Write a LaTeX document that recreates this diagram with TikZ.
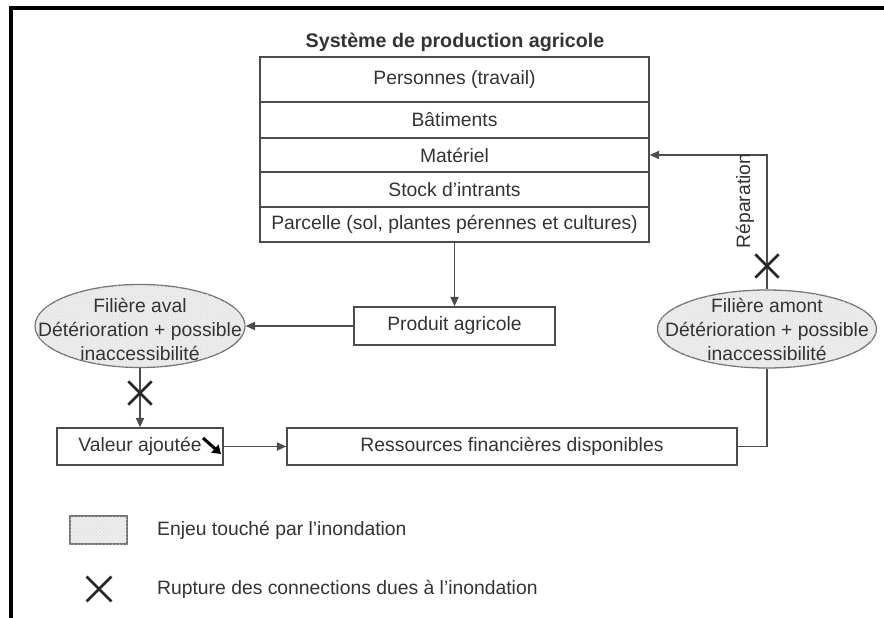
\documentclass[tikz,border=0pt]{standalone}
\usepackage{fontspec}
\setmainfont{Liberation Sans}
\usetikzlibrary{positioning, shapes.geometric, shapes.misc, arrows.meta, patterns}

\begin{document}
\begin{tikzpicture}[x=0.03cm, y=0.03cm,
		font=\fontsize{16.5}{20.5}\selectfont, text=black!80,
		bloc/.style={draw=black!70, line width=1.3pt, rectangle, inner sep=0pt, minimum width=11.67cm},
		boite/.style={draw=black!70, line width=1.3pt, rectangle, inner sep=0pt, minimum height=1.11cm},
		enjeu/.style={draw=black!55, line width=1.1pt, fill=gray!14, postaction={pattern=crosshatch dots, pattern color=gray!30}},
		filiere/.style={enjeu, ellipse, inner sep=0pt},
		rupture/.style={cross out, draw=black!85, line width=2.4pt, inner sep=0pt, minimum size=0.62cm},
		fleche/.style={draw=black!70, line width=1.2pt, -{Triangle[length=8pt, width=7pt]}},
		lien/.style={draw=black!70, line width=1.2pt}]
		\useasboundingbox (0, 0) rectangle (884, -618);
		\draw[line width=2.6pt] (884, -8) -- (11, -8) -- (11, -618);
		% systeme de production
		\node[font=\fontsize{16.8}{21}\selectfont\bfseries] (titre) at (455, -42) {Système de production agricole};
		\node[bloc, minimum height=1.35cm] (personnes) at (454.5, -79.5) {Personnes (travail)};
		\node[bloc, minimum height=1.08cm] (batiments) at (454.5, -120) {Bâtiments};
		\node[bloc, minimum height=1.02cm] (materiel) at (454.5, -155) {Matériel};
		\node[bloc, minimum height=1.05cm] (stock) at (454.5, -189.5) {Stock d'intrants};
		\node[bloc, minimum height=1.05cm] (parcelle) at (454.5, -224.5) {Parcelle (sol, plantes pérennes et cultures)};
		\node[boite, minimum width=6.03cm, minimum height=1.14cm] (produit) at (454.5, -326) {Produit agricole};
		% filieres
		\node[filiere, minimum width=6.3cm, minimum height=2.49cm] (aval) at (140, -326) {};
		\node[align=center] (avaltxt) at (140, -329) {Filière aval\\Détérioration + possible\\inaccessibilité};
		\node[filiere, minimum width=6.57cm, minimum height=2.34cm] (amont) at (767, -329) {};
		\node[align=center] (amonttxt) at (767, -329) {Filière amont\\Détérioration + possible\\inaccessibilité};
		\node[boite, minimum width=4.98cm] (valeur) at (140, -446.5) {Valeur ajoutée};
		\node[boite, minimum width=13.5cm] (ressources) at (512, -446.5) {Ressources financières disponibles};
		% liens
		\draw[fleche] (parcelle.south) -- (produit.north);
		\draw[fleche] (produit.west) -- (aval.east);
		\draw[fleche] (aval.south) -- (valeur.north);
		\draw[fleche] (valeur.east) -- (ressources.west);
		\draw[lien] (ressources.east) -| (amont.south);
		\draw[fleche] (amont.north) |- (materiel.east);
		\node[rotate=90] (reparation) at (745, -201) {Réparation};
		\node[rupture] (coupure1) at (140, -393) {};
		\node[rupture] (coupure2) at (767, -266) {};
		\coordinate (curseur) at (203, -438);
		\draw[line width=2.6pt, black, -{Triangle[length=7pt, width=9pt]}] (curseur) -- ++(18, -16);
		% legende
		\node[enjeu, rectangle, minimum width=1.71cm, minimum height=0.84cm] (legzone) at (98.5, -530) {};
		\node[anchor=west] (legzonetxt) at (153, -530) {Enjeu touché par l'inondation};
		\node[rupture, minimum size=0.66cm] (legcroix) at (99, -589) {};
		\node[anchor=west] (legcroixtxt) at (153, -589) {Rupture des connections dues à l'inondation};
	\end{tikzpicture}
\end{document}
